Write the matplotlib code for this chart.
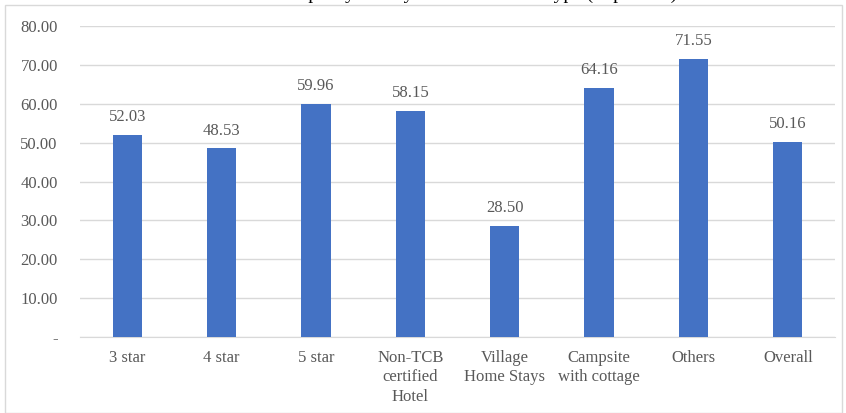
import matplotlib.pyplot as plt
from matplotlib.patches import Rectangle

categories = ['3 star', '4 star', '5 star', 'Non-TCB\ncertified\nHotel',
              'Village\nHome Stays', 'Campsite\nwith cottage', 'Others', 'Overall']
values = [52.03, 48.53, 59.96, 58.15, 28.50, 64.16, 71.55, 50.16]
yticks = [0, 10, 20, 30, 40, 50, 60, 70, 80]
title = 'Occupancy rate by accommodation type (in percent)'

plt.rcParams['font.family'] = ['Liberation Serif', 'DejaVu Serif']
text_color = '#595959'
grid_color = '#D9D9D9'

fig = plt.figure(figsize=(8.46, 4.13), dpi=100)
ax = fig.add_axes([80 / 846, 1 - 337 / 413, 755 / 846, 311 / 413])

x = range(len(categories))
bars = ax.bar(x, values, width=0.31, color='#4472C4', zorder=3)
for b, v in zip(bars, values):
    ax.annotate(f'{v:.2f}', (b.get_x() + b.get_width() / 2, v),
                xytext=(0, 7), textcoords='offset points',
                ha='center', va='bottom', fontsize=12, color=text_color)

ax.set_xlim(-0.5, len(categories) - 0.5)
ax.set_ylim(0, 80)
ax.set_yticks(yticks)
ax.set_yticklabels(['-' if t == 0 else f'{t:.2f}' for t in yticks])
ax.set_xticks(list(x))
ax.set_xticklabels(categories, linespacing=1.3)
ax.tick_params(axis='both', length=0, labelsize=12, colors=text_color)
ax.tick_params(axis='y', pad=16)
ax.tick_params(axis='x', pad=9)
ax.grid(axis='y', color=grid_color, linewidth=1, zorder=0)
for s in ['top', 'right', 'left']:
    ax.spines[s].set_visible(False)
ax.spines['bottom'].set_color(grid_color)

# outer chart border; the title sits mostly above the top edge, as in the source
fig.patches.append(Rectangle((5 / 846, 0), 837 / 846, 1 - 5 / 413,
                             transform=fig.transFigure, fill=False,
                             edgecolor=grid_color, linewidth=1))
fig.text(472 / 846, 1 + 1 / 413, title, ha='center', va='baseline',
         fontsize=14, color='black')

fig.savefig('out.png', dpi=100)
